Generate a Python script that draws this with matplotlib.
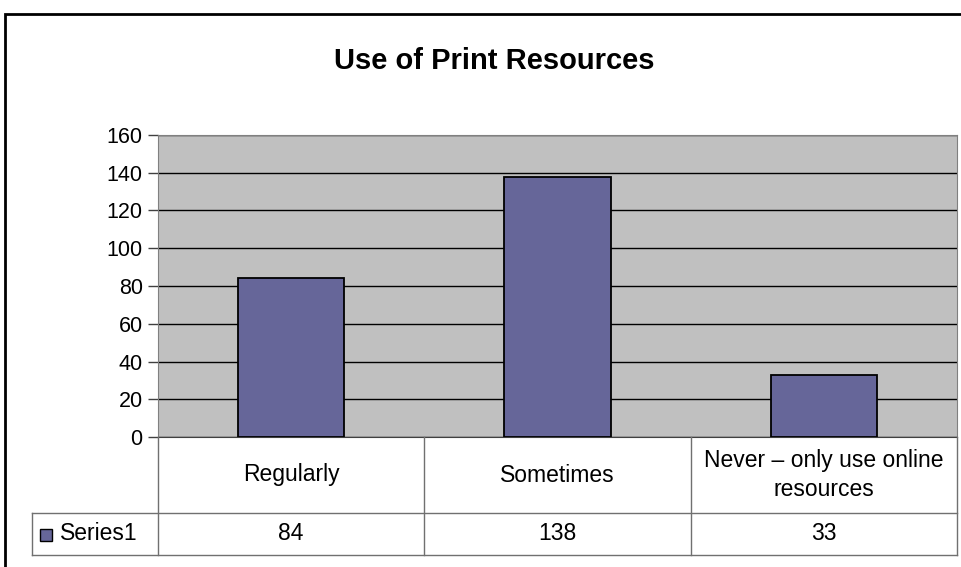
import matplotlib.pyplot as plt
from matplotlib.patches import Rectangle
from matplotlib.lines import Line2D

plt.rcParams['font.family'] = ['Liberation Sans', 'DejaVu Sans']

# Daten
categories = ['Regularly', 'Sometimes', 'Never \u2013 only use online\nresources']
series_name = 'Series1'
values = [84, 138, 33]
y_ticks = [0, 20, 40, 60, 80, 100, 120, 140, 160]

W, H = 961, 567
bar_color = '#666699'


def px(x, y):
    # Pixel (von oben links) -> Figurkoordinaten
    return x / W, 1 - y / H


fig = plt.figure(figsize=(W / 100, H / 100), dpi=100)

# Rahmen des Diagrammbereichs
fig.patches.append(Rectangle(px(5, 600), (W + 20) / W, 586 / H, transform=fig.transFigure,
                             fill=False, edgecolor='black', linewidth=2))

fig.text(*px(494, 69), 'Use of Print Resources', ha='center', va='baseline',
         fontsize=21, fontweight='bold')

left, top, right, bottom = 158, 135, 957, 437
ax = fig.add_axes([left / W, 1 - bottom / H, (right - left) / W, (bottom - top) / H])
ax.set_facecolor('#C0C0C0')

x = range(len(values))
ax.bar(x, values, width=0.4, color=bar_color, edgecolor='black', linewidth=1.3, zorder=3)

ax.set_xlim(-0.5, len(values) - 0.5)
ax.set_ylim(0, 160)
ax.set_yticks(y_ticks)
ax.set_yticklabels([str(t) for t in y_ticks], fontsize=15.5)
ax.set_xticks([])
ax.yaxis.grid(True, color='black', linewidth=1)
ax.set_axisbelow(True)
ax.tick_params(axis='y', direction='out', length=7, width=1, color='#404040', pad=4)
for side in ['top', 'right', 'left']:
    ax.spines[side].set_color('#808080')
ax.spines['bottom'].set_color('#404040')

# Datentabelle
fig.canvas.draw()
to_px = lambda xd: ax.transData.transform((xd, 0))[0]
bounds = [to_px(b - 0.5) for b in range(len(values) + 1)]
centers = [to_px(b) for b in x]

row1, row2, row3 = 437, 513, 555
grid_col = '#707070'


def hline(x0, x1, y):
    fig.add_artist(Line2D([x0 / W, x1 / W], [1 - y / H, 1 - y / H], color=grid_col, linewidth=1))


def vline(xp, y0, y1):
    fig.add_artist(Line2D([xp / W, xp / W], [1 - y0 / H, 1 - y1 / H], color=grid_col, linewidth=1))


hline(32, bounds[-1], row2)
hline(32, bounds[-1], row3)
vline(32, row2, row3)
for b in bounds:
    vline(b, row1, row3)

for c, cat, v in zip(centers, categories, values):
    fig.text(c / W, 1 - 475 / H, cat, ha='center', va='center', fontsize=16.5, linespacing=1.3)
    fig.text(c / W, 1 - 534 / H, str(v), ha='center', va='center', fontsize=16.5)

fig.patches.append(Rectangle(px(40, 541), 12 / W, 12 / H, transform=fig.transFigure,
                             facecolor=bar_color, edgecolor='black', linewidth=1))
fig.text(60 / W, 1 - 534 / H, series_name, ha='left', va='center', fontsize=16.5)

fig.savefig('out.png', dpi=100)
